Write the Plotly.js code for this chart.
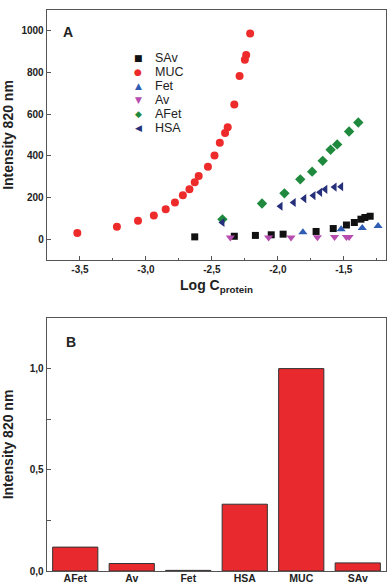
<!DOCTYPE html>
<html><head><meta charset="utf-8">
<script src="https://cdn.plot.ly/plotly-3.0.1.min.js"></script>
<style>html,body{margin:0;padding:0;background:#fff}#c{width:387px;height:585px}</style>
</head><body><div id="c"></div>
<script>
// ---- Panel A data (Log C_protein vs Intensity 820 nm) ----
const seriesNames = ['SAv','MUC','Fet','Av','AFet','HSA'];
const savX = [-2.63,-2.33,-2.17,-2.05,-1.96,-1.71,-1.58,-1.48,-1.42,-1.37,-1.34,-1.30];
const savY = [11,14,18,21,24,37,51,68,80,96,104,110];
const mucX = [-3.52,-3.22,-3.06,-2.94,-2.85,-2.78,-2.72,-2.67,-2.63,-2.60,-2.53,-2.48,-2.44,-2.40,-2.38,-2.33,-2.29,-2.25,-2.24,-2.21];
const mucY = [29,59,88,113,143,176,211,239,273,303,348,402,463,510,537,647,783,861,884,987];
const fetX = [-1.81,-1.52,-1.36,-1.24];
const fetY = [33,47,54,63];
const avX = [-2.36,-2.07,-1.90,-1.70,-1.57,-1.48,-1.46];
const avY = [8,8,8,9,10,10,10];
const afetX = [-2.42,-2.12,-1.95,-1.83,-1.74,-1.66,-1.60,-1.55,-1.46,-1.39];
const afetY = [95,171,220,287,324,376,429,455,517,560];
const hsaX = [-2.42,-1.98,-1.88,-1.80,-1.73,-1.68,-1.64,-1.57,-1.52];
const hsaY = [80,158,176,195,209,225,239,250,252];
const xTickVals = [-3.5,-3.0,-2.5,-2.0,-1.5];
const xTickText = ['-3,5','-3,0','-2,5','-2,0','-1,5'];
const yTickVals = [0,200,400,600,800,1000];

// ---- Panel B data ----
const barCats = ['AFet','Av','Fet','HSA','MUC','SAv'];
const barVals = [0.118,0.037,0.003,0.33,1.0,0.04];
const bTickVals = [0,0.5,1.0];
const bTickText = ['0,0','0,5','1,0'];

const colors = {SAv:'#111111', MUC:'#EE2B2B', Fet:'#2F5DB3', Av:'#B54CAE', AFet:'#1F8A3E', HSA:'#26307A'};
const symbols = {SAv:'square', MUC:'circle', Fet:'triangle-up', Av:'triangle-down', AFet:'diamond', HSA:'triangle-left'};
const glyphs = {SAv:'■', MUC:'●', Fet:'▲', Av:'▼', AFet:'◆', HSA:'◀'};
const sizes = {SAv:7, MUC:8, Fet:8, Av:8, AFet:8, HSA:8};
const dataMap = {SAv:[savX,savY], MUC:[mucX,mucY], Fet:[fetX,fetY], Av:[avX,avY], AFet:[afetX,afetY], HSA:[hsaX,hsaY]};

const F = 'Liberation Sans, Arial, sans-serif';
const W = 387, H = 585;
const traces = seriesNames.map(n => ({
  type:'scatter', mode:'markers', name:n, x:dataMap[n][0], y:dataMap[n][1],
  xaxis:'x', yaxis:'y', showlegend:false,
  marker:{symbol:symbols[n], color:colors[n], size:sizes[n], line:{width:0}}
}));
traces.push({
  type:'bar', x:barCats, y:barVals, xaxis:'x2', yaxis:'y2', showlegend:false,
  marker:{color:'#E8292D', line:{color:'#333', width:1}}
});

const axLine = {showline:true, linecolor:'#555', linewidth:1.3, mirror:true, showgrid:false, zeroline:false};
const tf = {family:F, size:10, color:'#222', weight:'bold'};
const titleFont = {family:F, size:14, color:'#222', weight:'bold'};

const annotations = [
  {text:'A', x:68/W, y:1-32/H, xref:'paper', yref:'paper', showarrow:false, font:{family:F,size:14,weight:'bold',color:'#222'}, xanchor:'center', yanchor:'middle'},
  {text:'B', x:71/W, y:1-342/H, xref:'paper', yref:'paper', showarrow:false, font:{family:F,size:14,weight:'bold',color:'#222'}, xanchor:'center', yanchor:'middle'}
];
seriesNames.forEach((n,i) => {
  const yy = 1 - (58.5 + i*13.9)/H;
  annotations.push({text:glyphs[n], x:138/W, y:yy, xref:'paper', yref:'paper', showarrow:false,
    font:{family:'DejaVu Sans', size:9, color:colors[n]}, xanchor:'center', yanchor:'middle'});
  annotations.push({text:n, x:153/W, y:yy, xref:'paper', yref:'paper', showarrow:false,
    font:{family:F, size:12.5, color:'#222'}, xanchor:'left', yanchor:'middle'});
});

const layout = {
  width:W, height:H, margin:{l:0,r:0,t:0,b:0}, paper_bgcolor:'#fff', plot_bgcolor:'#fff',
  font:{family:F}, showlegend:false, bargap:0.2,
  xaxis: Object.assign({}, axLine, {domain:[47/W, 386/W], anchor:'y', range:[-3.75,-1.18],
    tickvals:xTickVals, ticktext:xTickText, ticks:'inside', ticklen:4, tickwidth:1, tickcolor:'#555',
    minor:{tickvals:[-3.25,-2.75,-2.25,-1.75,-1.25], ticks:'inside', ticklen:2.5, tickcolor:'#555'},
    tickfont:tf, title:{text:'Log C<sub>protein</sub>', font:titleFont, standoff:6}}),
  yaxis: Object.assign({}, axLine, {domain:[1-260/H, 1-10/H], anchor:'x', range:[-100,1100],
    tickvals:yTickVals, ticks:'inside', ticklen:4, tickcolor:'#555',
    tickfont:tf, title:{text:'Intensity 820 nm', font:titleFont, standoff:8}}),
  xaxis2: Object.assign({}, axLine, {domain:[47/W, 386/W], anchor:'y2', range:[-0.5,5.5],
    ticks:'', ticklabelstandoff:-3, tickfont:{family:F, size:10.5, color:'#222', weight:'bold'}}),
  yaxis2: Object.assign({}, axLine, {domain:[1-571/H, 1-318/H], anchor:'x2', range:[0,1.25],
    tickvals:bTickVals, ticktext:bTickText, ticks:'inside', ticklen:4, tickcolor:'#555',
    minor:{tickvals:[0.25,0.75], ticks:'inside', ticklen:4, tickcolor:'#555'},
    tickfont:tf, title:{text:'Intensity 820 nm', font:titleFont, standoff:20}}),
  annotations: annotations
};
Plotly.newPlot('c', traces, layout, {staticPlot:true});
</script></body></html>
